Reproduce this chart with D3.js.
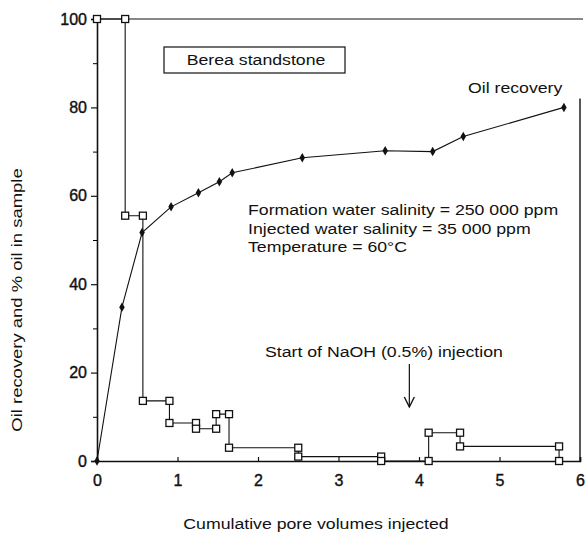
<!DOCTYPE html>
<html>
<head>
<meta charset="utf-8">
<script src="https://cdn.jsdelivr.net/npm/d3@7"></script>
<style>
  body { margin: 0; background: #fff; }
  text { font-family: "Liberation Sans", Arial, sans-serif; fill: #111; }
</style>
</head>
<body>
<script>
// Oil recovery curve (filled diamonds)
let recoveryX = [0, 0.31, 0.56, 0.92, 1.26, 1.52, 1.68, 2.55, 3.58, 4.17, 4.55, 5.80];
let recoveryY = [0, 34.8, 51.7, 57.5, 60.7, 63.2, 65.2, 68.6, 70.2, 70.0, 73.4, 80.0];

// % oil in sample (open squares, stepped)
let sampleX = [0, 0.35, 0.35, 0.57, 0.57, 0.90, 0.90, 1.23, 1.23, 1.48, 1.48, 1.64, 1.64, 2.50, 2.50, 3.53, 3.53, 4.12, 4.12, 4.51, 4.51, 5.74, 5.74];
let sampleY = [100, 100, 55.5, 55.5, 13.6, 13.6, 8.6, 8.6, 7.3, 7.3, 10.6, 10.6, 3.0, 3.0, 1.0, 1.0, 0, 0, 6.4, 6.4, 3.3, 3.3, 0];

let xTicks = [0, 1, 2, 3, 4, 5, 6];
let yTicks = [0, 20, 40, 60, 80, 100];
let yMinorTicks = [10, 30, 50, 70, 90];

let notes = [
  "Formation water salinity = 250 000 ppm",
  "Injected water salinity = 35 000 ppm",
  "Temperature = 60°C"
];

let width = 586;
let height = 535;
let margin = { top: 19, bottom: 74, left: 97, right: 6 };
let stretch = 1.18; // the scanned lettering is wider than Arial

let svg = d3.select("body")
  .append("svg")
  .attr("width", width)
  .attr("height", height);

let xScale = d3.scaleLinear()
  .domain([0, 6])
  .range([margin.left, width - margin.right]);

let yScale = d3.scaleLinear()
  .domain([0, 100])
  .range([height - margin.bottom, margin.top]);

// helper for wide text
function label(x, y, str, anchor, extra) {
  return svg.append("text")
    .attr("transform", `translate(${x}, ${y}) ${extra || ""} scale(${stretch}, 1)`)
    .style("text-anchor", anchor || "start")
    .style("font-size", "15px")
    .text(str);
}

// Axes
let xAxis = svg.append("g")
  .attr("transform", `translate(0, ${yScale(0)})`)
  .call(d3.axisBottom(xScale).tickValues(xTicks).tickSize(-4).tickPadding(14).tickFormat(d3.format("d")));

let yAxis = svg.append("g")
  .attr("transform", `translate(${margin.left}, 0)`)
  .call(d3.axisLeft(yScale).tickValues(yTicks).tickSize(6).tickPadding(4));

svg.append("g")
  .attr("transform", `translate(${margin.left}, 0)`)
  .call(d3.axisLeft(yScale).tickValues(yMinorTicks).tickSize(4).tickFormat(""))
  .select(".domain").remove();

[xAxis, yAxis].forEach(g => {
  g.select(".domain").attr("stroke", "#111").attr("stroke-width", 1.6);
  g.selectAll(".tick line").attr("stroke", "#111").attr("stroke-width", 1.2);
  g.selectAll(".tick text")
    .style("font-family", "Liberation Sans, Arial, sans-serif")
    .style("font-size", "16px")
    .attr("fill", "#111")
    .attr("stroke", "#111")
    .attr("stroke-width", 0.4);
});

// Frame: top and right edges
svg.append("line")
  .attr("x1", xScale(0)).attr("x2", width - 3)
  .attr("y1", yScale(100)).attr("y2", yScale(100))
  .attr("stroke", "#111").attr("stroke-width", 1.2);

svg.append("line")
  .attr("x1", xScale(6)).attr("x2", xScale(6))
  .attr("y1", yScale(82)).attr("y2", yScale(0))
  .attr("stroke", "#111").attr("stroke-width", 1.4);

// Oil in sample, stepped line
let sampleData = sampleX.map((x, i) => ({ x: x, y: sampleY[i] }));
let line = d3.line().x(d => xScale(d.x)).y(d => yScale(d.y));

svg.append("path")
  .datum(sampleData)
  .attr("d", line)
  .attr("fill", "none")
  .attr("stroke", "#111")
  .attr("stroke-width", 1.1);

svg.selectAll(".sq")
  .data(sampleData)
  .enter().append("rect")
  .attr("class", "sq")
  .attr("x", d => xScale(d.x) - 3.5)
  .attr("y", d => yScale(d.y) - 3.5)
  .attr("width", 7)
  .attr("height", 7)
  .attr("fill", "#fff")
  .attr("stroke", "#111")
  .attr("stroke-width", 1.3);

// Oil recovery line
let recoveryData = recoveryX.map((x, i) => ({ x: x, y: recoveryY[i] }));

svg.append("path")
  .datum(recoveryData)
  .attr("d", line)
  .attr("fill", "none")
  .attr("stroke", "#111")
  .attr("stroke-width", 1.1);

svg.selectAll(".dm")
  .data(recoveryData)
  .enter().append("path")
  .attr("class", "dm")
  .attr("d", d3.symbol().type(d3.symbolDiamond).size(26))
  .attr("transform", d => `translate(${xScale(d.x)}, ${yScale(d.y)})`)
  .attr("fill", "#111");

// Title box
svg.append("rect")
  .attr("x", 164).attr("y", 47)
  .attr("width", 181).attr("height", 26)
  .attr("fill", "none")
  .attr("stroke", "#111")
  .attr("stroke-width", 1.2);

label(256, 65, "Berea standstone", "middle");
label(468, 93, "Oil recovery");

// Conditions
notes.forEach((d, i) => label(248, 215 + i * 18.5, d));

// NaOH injection marker
label(265, 357, "Start of NaOH (0.5%) injection");

let arrowX = xScale(3.88);
svg.append("line")
  .attr("x1", arrowX).attr("x2", arrowX)
  .attr("y1", 364).attr("y2", 407)
  .attr("stroke", "#111")
  .attr("stroke-width", 1.2);

svg.append("path")
  .attr("d", `M${arrowX - 5},${397} L${arrowX},${407} L${arrowX + 5},${397}`)
  .attr("fill", "none")
  .attr("stroke", "#111")
  .attr("stroke-width", 1.4);

// Axis labels
label(316, 529, "Cumulative pore volumes injected", "middle");

svg.append("text")
  .attr("transform", "translate(22, 300) rotate(-90) scale(1.23, 1)")
  .style("text-anchor", "middle")
  .style("font-size", "15px")
  .text("Oil recovery and % oil in sample");
</script>
</body>
</html>
